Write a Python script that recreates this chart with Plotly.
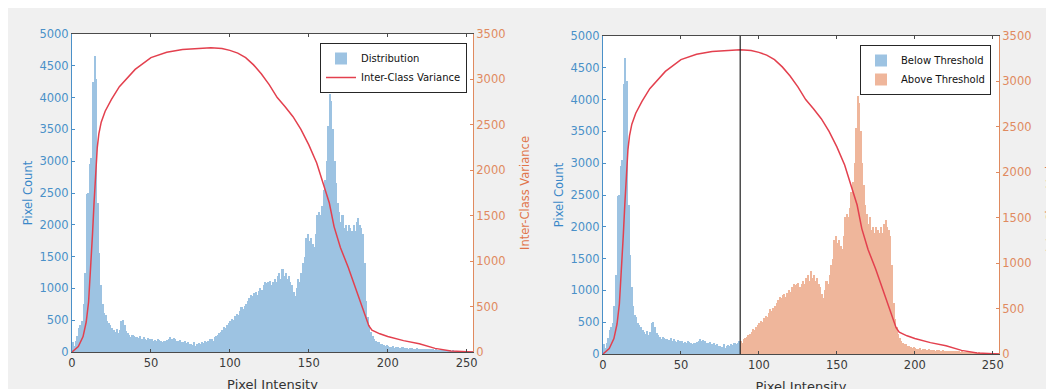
import plotly.graph_objects as go

# ---------------- data ----------------
intensity = list(range(256))

pixel_count = [
    150, 100, 180, 250, 370, 420, 480, 750, 1250, 2480,
    2500, 2950, 3050, 4250, 4650, 4300, 2350, 1550, 1050, 750,
    620, 580, 480, 450, 420, 380, 340, 320, 360, 300,
    340, 480, 500, 430, 330, 300, 260, 240, 270, 250,
    230, 240, 220, 250, 210, 230, 200, 190, 220, 200,
    210, 180, 190, 170, 200, 190, 170, 160, 180, 170,
    190, 210, 230, 200, 220, 200, 180, 170, 190, 160,
    150, 170, 140, 150, 130, 120, 110, 150, 100, 120,
    140, 130, 150, 140, 170, 160, 180, 200, 210, 180,
    230, 250, 270, 300, 320, 350, 400, 380, 430, 450,
    480, 520, 500, 560, 600, 580, 650, 700, 680, 720,
    760, 800, 850, 900, 880, 920, 950, 900, 960, 1000,
    980, 1050, 1100, 1080, 1100, 1120, 1050, 1100, 1150, 1100,
    1200, 1250, 1150, 1300, 1200, 1250, 1150, 1200, 1100, 1050,
    950, 880, 1000, 1150, 1100, 1250, 1400, 1500, 1800, 1850,
    1750, 1800, 1700, 1650, 1850, 2150, 2200, 2150, 2300, 2550,
    2700, 3000, 3550, 4050, 3950, 3500, 3000, 2650, 2350, 2200,
    2050, 2150, 1950, 2000, 1900, 2000, 1950, 1900, 2000, 1900,
    2050, 2100, 2000, 1950, 1850, 1400, 800, 550, 420, 320,
    250, 200, 180, 160, 150, 130, 120, 110, 100, 110,
    90, 85, 80, 90, 70, 75, 80, 70, 65, 75,
    60, 70, 65, 55, 60, 70, 50, 55, 60, 50,
    45, 55, 50, 45, 50, 40, 55, 45, 40, 35,
    40, 30, 35, 30, 25, 30, 25, 20, 25, 20,
    15, 20, 15, 10, 15, 10, 12, 8, 10, 6,
    5, 4, 3, 2, 1, 0,
]

var_x = [0, 4, 7, 9, 10.5, 12, 13, 14, 15, 16, 17, 18.5, 21, 25, 30, 35, 40,
         50, 60, 70, 80, 88, 95, 100, 105, 110, 115, 120, 125, 130, 135, 140,
         145, 150, 155, 160, 163, 166, 170, 175, 180, 185, 188, 190, 195, 200,
         210, 220, 225, 230, 240, 248, 255]
var_y = [0, 60, 170, 330, 550, 950, 1300, 1650, 2000, 2250, 2400, 2530, 2650,
         2780, 2920, 3020, 3110, 3240, 3300, 3330, 3345, 3350, 3340, 3320,
         3290, 3240, 3160, 3060, 2940, 2800, 2700, 2590, 2450, 2280, 2080,
         1820, 1640, 1380, 1150, 930, 680, 420, 290, 240, 200, 170, 125, 90,
         65, 40, 12, 2, 0]

threshold = 88

below_x = [i for i in intensity if i < threshold]
below_y = [c for i, c in zip(intensity, pixel_count) if i < threshold]
above_x = [i for i in intensity if i >= threshold]
above_y = [c for i, c in zip(intensity, pixel_count) if i >= threshold]

# ---------------- styling ----------------
W, H = 1054, 389
OFF = 8  # page body margin offset
FONT = "DejaVu Sans"
BLUE_BAR = "#9dc3e2"
ORANGE_BAR = "#efb69b"
RED = "#e3404e"
BLUE_AX = "#4a90c8"
BLUE_TITLE = "#3a88c8"
ORANGE_AX = "#e08a5f"
ORANGE_TITLE = "#e0744a"
GRAY = "#4a4a4a"

fig = go.Figure()

fig.add_trace(go.Bar(x=intensity, y=pixel_count, width=1, offset=0,
                     marker=dict(color=BLUE_BAR, line=dict(width=0)),
                     name="Distribution", xaxis="x", yaxis="y", legend="legend"))
fig.add_trace(go.Scatter(x=var_x, y=var_y, mode="lines", line=dict(color=RED, width=1.5),
                         name="Inter-Class Variance", xaxis="x", yaxis="y2", legend="legend"))

fig.add_trace(go.Bar(x=below_x, y=below_y, width=1, offset=0,
                     marker=dict(color=BLUE_BAR, line=dict(width=0)),
                     name="Below Threshold", xaxis="x2", yaxis="y3", legend="legend2"))
fig.add_trace(go.Bar(x=above_x, y=above_y, width=1, offset=0,
                     marker=dict(color=ORANGE_BAR, line=dict(width=0)),
                     name="Above Threshold", xaxis="x2", yaxis="y3", legend="legend2"))
fig.add_trace(go.Scatter(x=var_x, y=var_y, mode="lines", line=dict(color=RED, width=1.5),
                         showlegend=False, xaxis="x2", yaxis="y4"))


def xaxis_cfg(domain, anchor):
    return dict(domain=domain, anchor=anchor, range=[0, 254],
                tickvals=[0, 50, 100, 150, 200, 250], ticks="inside", ticklen=3,
                tickcolor=GRAY, showline=True, linecolor=GRAY, linewidth=1,
                mirror="ticks", showgrid=False, zeroline=False,
                tickfont=dict(family=FONT, size=11.5, color="#3a3a3a"),
                title=dict(text="Pixel Intensity", standoff=11,
                           font=dict(family=FONT, size=13, color="#333333")),
                automargin=False)


def ycount_cfg(domain, anchor):
    return dict(domain=domain, anchor=anchor, range=[0, 5000], dtick=500,
                ticks="inside", ticklen=3, tickcolor=BLUE_AX, showline=True,
                linecolor=BLUE_AX, linewidth=1, showgrid=False, zeroline=False,
                tickfont=dict(family=FONT, size=11.5, color=BLUE_AX),
                title=dict(text="Pixel Count", standoff=4,
                           font=dict(family=FONT, size=11.5, color=BLUE_TITLE)),
                automargin=False)


def yvar_cfg(over, anchor):
    return dict(overlaying=over, anchor=anchor, side="right", range=[0, 3500], dtick=500,
                ticks="inside", ticklen=3, tickcolor=ORANGE_AX, showline=True,
                linecolor=ORANGE_AX, linewidth=1, showgrid=False, zeroline=False,
                tickfont=dict(family=FONT, size=11.5, color=ORANGE_AX),
                title=dict(text="Inter-Class Variance", standoff=16,
                           font=dict(family=FONT, size=11.5, color=ORANGE_TITLE)),
                automargin=False)


def px_x(v):
    return (v - OFF) / W


def px_y(v):
    return (H - (v - OFF)) / H


left_dom = [px_x(72), px_x(473)]
right_dom = [px_x(603), px_x(999)]
left_ydom = [px_y(352), px_y(34)]
right_ydom = [px_y(354), px_y(36)]

legend_common = dict(bgcolor="white", bordercolor="#262626", borderwidth=1,
                     font=dict(family=FONT, size=10, color="#111111"),
                     xanchor="right", yanchor="top", tracegroupgap=0,
                     itemwidth=30, traceorder="normal")

fig.update_layout(
    width=W, height=H,
    margin=dict(l=0, r=0, t=0, b=0),
    paper_bgcolor="#f0f0f0",
    plot_bgcolor="white",
    barmode="overlay",
    bargap=0,
    xaxis=xaxis_cfg(left_dom, "y"),
    yaxis=ycount_cfg(left_ydom, "x"),
    yaxis2=yvar_cfg("y", "x"),
    xaxis2=xaxis_cfg(right_dom, "y3"),
    yaxis3=ycount_cfg(right_ydom, "x2"),
    yaxis4=yvar_cfg("y3", "x2"),
    legend=dict(x=px_x(467), y=px_y(43), **legend_common),
    legend2=dict(x=px_x(991), y=px_y(45), **legend_common),
    shapes=[
        dict(type="line", xref="x2", yref="y3 domain", x0=threshold, x1=threshold,
             y0=0, y1=1, line=dict(color="#222222", width=1.2)),
    ],
)

fig.write_html("out.html")
